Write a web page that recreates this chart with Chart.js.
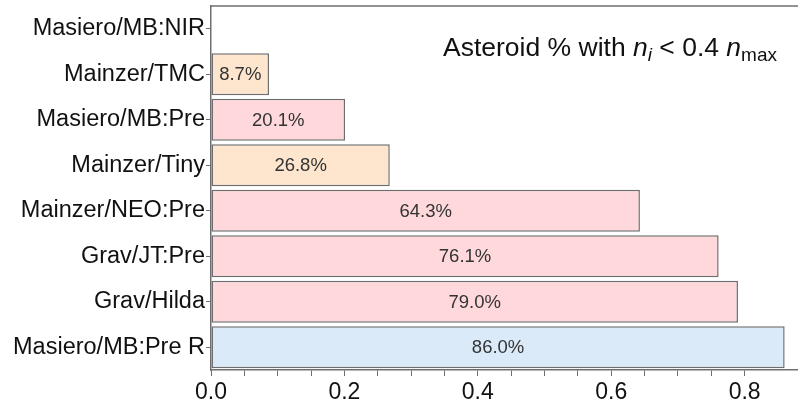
<!DOCTYPE html>
<html lang="en">
  <head>
    <meta charset="UTF-8" />
    <title>Asteroid % with n_i &lt; 0.4 n_max</title>
    <script src="https://cdn.jsdelivr.net/npm/chart.js@4/dist/chart.umd.min.js"></script>
    <style>
      html, body { margin: 0; padding: 0; background: #fff; }
      #wrap { width: 798px; height: 409px; }
    </style>
  </head>
  <body>
    <div id="wrap"><canvas id="myChart" width="798" height="409"></canvas></div>

    <script>
      // values
      const labels = [
        'Masiero/MB:NIR', 'Mainzer/TMC', 'Masiero/MB:Pre', 'Mainzer/Tiny',
        'Mainzer/NEO:Pre', 'Grav/JT:Pre', 'Grav/Hilda', 'Masiero/MB:Pre R'
      ];
      const fractions = [0, 0.087, 0.201, 0.268, 0.643, 0.761, 0.790, 0.860];
      const groups = ['pink', 'peach', 'pink', 'peach', 'pink', 'pink', 'pink', 'blue'];
      const xTickLabels = [0, 0.2, 0.4, 0.6, 0.8];

      const fills = { pink: '#fed8da', peach: '#fde6cd', blue: '#dbeaf9' };
      const edge = '#6e6e6e';
      const FONT = '"Liberation Sans", Arial, sans-serif';

      // bar value labels + the note in the top right
      const overlay = {
        id: 'overlay',
        afterDatasetsDraw(chart) {
          const ctx = chart.ctx;
          const meta = chart.getDatasetMeta(0);
          ctx.save();
          ctx.font = '18.5px ' + FONT;
          ctx.fillStyle = '#333';
          ctx.textAlign = 'center';
          ctx.textBaseline = 'middle';
          meta.data.forEach((bar, i) => {
            if (!fractions[i]) return;
            const x = (bar.base + bar.x) / 2;
            ctx.fillText((fractions[i] * 100).toFixed(1) + '%', x, bar.y + 1);
          });
          ctx.restore();
        },
        afterDraw(chart) {
          const ctx = chart.ctx;
          const a = chart.chartArea;
          ctx.save();
          // top frame line
          ctx.strokeStyle = edge;
          ctx.lineWidth = 1.5;
          ctx.beginPath();
          ctx.moveTo(a.left, a.top);
          ctx.lineTo(a.right, a.top);
          ctx.stroke();

          const base = '26.5px ' + FONT;
          const ital = 'italic 26.5px ' + FONT;
          const sub = '19px ' + FONT;
          const subI = 'italic 19px ' + FONT;
          const parts = [
            ['Asteroid % with ', base, 0],
            ['n', ital, 0],
            ['i', subI, 5],
            [' < 0.4 ', base, 0],
            ['n', ital, 0],
            ['max', sub, 5]
          ];
          let w = 0;
          parts.forEach(p => { ctx.font = p[1]; w += ctx.measureText(p[0]).width; });
          let x = a.right - 21 - w;
          const y = 56;
          ctx.fillStyle = '#111';
          ctx.textBaseline = 'alphabetic';
          ctx.textAlign = 'left';
          parts.forEach(p => {
            ctx.font = p[1];
            ctx.fillText(p[0], x, y + p[2]);
            x += ctx.measureText(p[0]).width;
          });
          ctx.restore();
        }
      };

      const ctx = document.getElementById('myChart').getContext('2d');
      const myChart = new Chart(ctx, {
        type: 'bar',
        data: {
          labels: labels,
          datasets: [
            {
              data: fractions,
              backgroundColor: groups.map(g => fills[g]),
              borderColor: edge,
              borderWidth: 1.5,
              borderSkipped: false,
              barPercentage: 0.92,
              categoryPercentage: 1
            }
          ]
        },
        options: {
          indexAxis: 'y',
          responsive: false,
          animation: false,
          layout: { padding: { top: 6, right: 0, left: 0, bottom: 0 } },
          plugins: { legend: { display: false }, tooltip: { enabled: false } },
          scales: {
            x: {
              min: 0,
              max: 0.88,
              afterBuildTicks: axis => {
                axis.ticks = axis.ticks.filter(t => t.value <= 0.851);
              },
              afterFit: scale => {
                scale.height = 39;
                scale.paddingLeft = 0;
                scale.paddingRight = 0;
              },
              border: { display: true, color: edge, width: 1.5 },
              grid: {
                drawOnChartArea: false,
                drawTicks: true,
                tickLength: 6,
                tickColor: edge
              },
              ticks: {
                stepSize: 0.05,
                autoSkip: false,
                maxRotation: 0,
                padding: 3,
                color: '#111',
                font: { family: FONT, size: 23 },
                callback: v => {
                  const hit = xTickLabels.find(t => Math.abs(t - v) < 1e-6);
                  return hit === undefined ? '' : hit.toFixed(1);
                }
              }
            },
            y: {
              afterFit: scale => {
                scale.width = 211;
                scale.paddingTop = 0;
                scale.paddingBottom = 0;
              },
              border: { display: true, color: edge, width: 1.5 },
              grid: {
                offset: false,
                drawOnChartArea: false,
                drawTicks: true,
                tickLength: 5,
                tickColor: edge
              },
              ticks: {
                padding: 1,
                color: '#111',
                font: { family: FONT, size: 23.5 }
              }
            }
          }
        },
        plugins: [overlay]
      });
    </script>
  </body>
</html>
